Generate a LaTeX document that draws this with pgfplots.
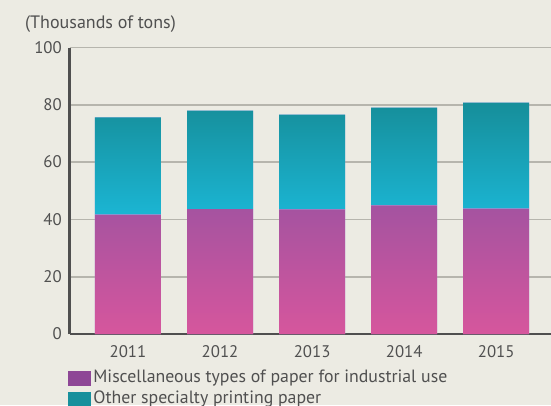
\documentclass[border=0pt]{standalone}
\usepackage{fontspec}
\setmainfont{PT Sans}
\usepackage{pgfplots}
\pgfplotsset{compat=1.18}
\definecolor{bg}{HTML}{ECEBE3}
\definecolor{gridc}{HTML}{B6B5AD}
\definecolor{axc}{HTML}{4F4F4F}
\definecolor{txt}{HTML}{505050}
\definecolor{pTop}{HTML}{A453A0}
\definecolor{pBot}{HTML}{D6569D}
\definecolor{tTop}{HTML}{168E9A}
\definecolor{tBot}{HTML}{1BB5D3}
\definecolor{legP}{HTML}{8E4796}
\definecolor{legT}{HTML}{17909C}
\begin{document}
\begin{tikzpicture}[x=1pt,y=1pt]
\fill[bg] (0,0) rectangle (551,405);
\useasboundingbox (0,0) rectangle (551,405);
\begin{axis}[
  at={(69.5pt,71pt)}, anchor=south west,
  scale only axis, width=481.5pt, height=286.5pt,
  xmin=-0.635, xmax=4.595, ymin=0, ymax=100,
  ybar stacked, bar width=66pt,
  axis x line=bottom, axis y line=left,
  axis line style={-, color=axc, line width=2.3pt},
  ytick={0,20,40,60,80,100},
  xtick={0,1,2,3,4}, xticklabels={2011,2012,2013,2014,2015},
  major tick length=0pt,
  ymajorgrids, grid style={color=gridc, line width=1.6pt},
  tick label style={font=\fontsize{16.8}{18}\selectfont, color=txt},
  yticklabel style={inner sep=0pt, anchor=east, xshift=-7.5pt},
  xticklabel style={inner sep=0pt, anchor=north, yshift=-11pt},
  /pgf/number format/assume math mode=true,
  clip=false,
  legend style={draw=none, fill=none, at={(0,0)}, anchor=north west,
    xshift=-2.2pt, yshift=-36pt, inner sep=0pt, row sep=4.5pt,
    font=\fontsize{17.8}{19}\selectfont, text=txt,
    nodes={inner sep=0pt, text height=12.5pt, text depth=3.5pt},
    cells={anchor=west},
    /tikz/every odd column/.append style={column sep=3.5pt}},
  legend cell align=left,
]
\addplot+[forget plot, draw=none, top color=pTop, bottom color=pBot, shading angle=0]
  coordinates {(0,41.7) (1,43.6) (2,43.5) (3,44.9) (4,43.8)};
\addplot+[forget plot, draw=none, top color=tTop, bottom color=tBot, shading angle=0]
  coordinates {(0,33.9) (1,34.4) (2,33.1) (3,34.1) (4,37.0)};
\addlegendimage{legend image code/.code={\fill[legP] (0pt,-7pt) rectangle (22pt,7pt);}}
\addlegendentry{Miscellaneous types of paper for industrial use}
\addlegendimage{legend image code/.code={\fill[legT] (0pt,-7pt) rectangle (22pt,7pt);}}
\addlegendentry{Other specialty printing paper}
\end{axis}
\node[anchor=base west, inner sep=0pt, text=txt, font=\fontsize{18}{20}\selectfont] at (25pt,376pt) {(Thousands of tons)};
\end{tikzpicture}
\end{document}
